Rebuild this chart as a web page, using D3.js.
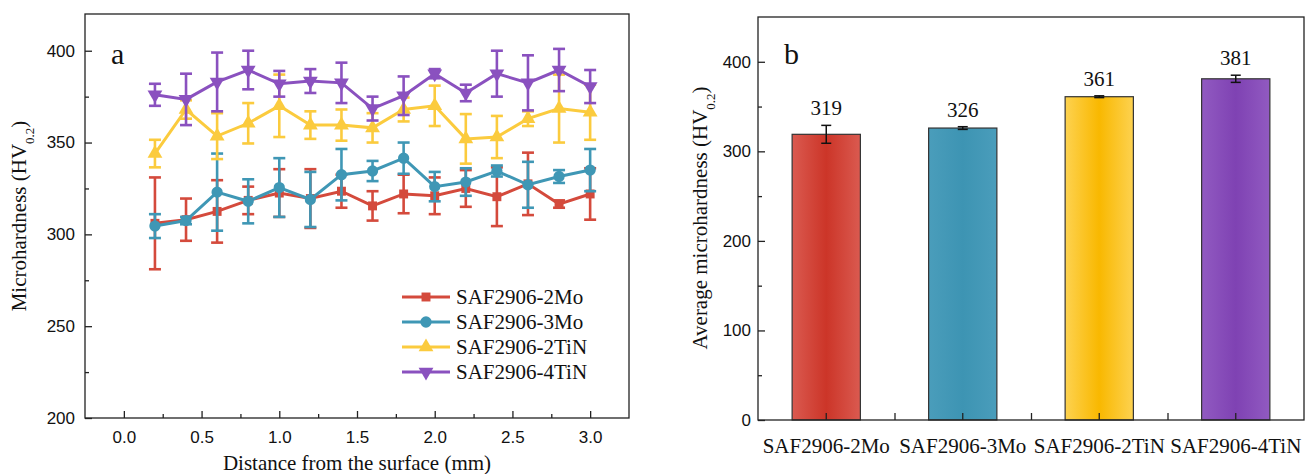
<!DOCTYPE html>
<html>
<head>
<meta charset="utf-8">
<script src="https://cdn.jsdelivr.net/npm/d3@7"></script>
<style>
  body { margin: 0; background: #fff; }
  svg text { fill: #111; }
  .serif { font-family: "Liberation Serif", "Times New Roman", serif; }
  .sans { font-family: "Liberation Sans", Arial, sans-serif; }
</style>
</head>
<body>
<svg id="chart" width="1310" height="474"></svg>
<script>
// panel a: hardness profile
const depth = [0.2, 0.4, 0.6, 0.8, 1.0, 1.2, 1.4, 1.6, 1.8, 2.0, 2.2, 2.4, 2.6, 2.8, 3.0];
const mo2    = [306, 308, 312.5, 318.5, 322.5, 319.5, 323.5, 315.5, 322, 321, 325, 320.5, 327.5, 316.5, 322];
const mo2Err = [25, 11.5, 17, 7.5, 13, 16, 9, 8, 10.5, 10, 10, 16, 17, 2, 14];
const mo3    = [304.5, 307.5, 323, 318, 325.5, 319, 332.5, 334.5, 341.5, 326, 328.5, 334.5, 327, 331.5, 335];
const mo3Err = [6.5, 2, 21, 12, 16, 15, 14, 5.5, 8.5, 8, 7.5, 3, 12.5, 3.5, 11.5];
const tin2    = [344, 368, 353.5, 360.5, 370, 359.5, 359.5, 358, 368, 370, 352, 353, 363, 368.5, 366.5];
const tin2Err = [7.5, 5, 12.5, 11, 17, 7.5, 8.5, 8, 6.5, 11, 13.5, 11.5, 4, 18.5, 15];
const tin4    = [376, 373.5, 383, 389.5, 382, 383.5, 382.5, 368.5, 375.5, 387.5, 377, 387.5, 382.5, 389.5, 380.5];
const tin4Err = [6, 14, 16, 10.5, 7, 6.5, 11, 6.5, 10.5, 2.5, 4.5, 12.5, 15, 11.5, 9];
const seriesNames = ["SAF2906-2Mo", "SAF2906-3Mo", "SAF2906-2TiN", "SAF2906-4TiN"];
const xTicksA = [0, 0.5, 1.0, 1.5, 2.0, 2.5, 3.0];
const xMinorA = [0.25, 0.75, 1.25, 1.75, 2.25, 2.75];
const yTicksA = [200, 250, 300, 350, 400];
const yMinorA = [225, 275, 325, 375];

// panel b: averages
const avgNames = ["SAF2906-2Mo", "SAF2906-3Mo", "SAF2906-2TiN", "SAF2906-4TiN"];
const avgVals  = [319, 326, 361, 381];
const avgErr   = [10, 1.5, 1, 4];
const yTicksB  = [0, 100, 200, 300, 400];
const yMinorB  = [50, 150, 250, 350];

const colors = ["#d44a3c", "#3f97b5", "#fbcb3e", "#8a51bf"];
const gradStops = [["#da5a50", "#cc3528"], ["#4a9dbb", "#3d94b3"], ["#fdd250", "#f9b800"], ["#915ac1", "#7f42b3"]];

const svg = d3.select("#chart");

// ---------- panel a ----------
const xa = d3.scaleLinear().domain([-0.25, 3.25]).range([85, 629]);
const ya = d3.scaleLinear().domain([200, 420]).range([418, 14]);

const gA = svg.append("g");
gA.append("rect").attr("x", 85).attr("y", 14).attr("width", 544).attr("height", 404)
  .attr("fill", "none").attr("stroke", "#222").attr("stroke-width", 1.3);

gA.append("g").attr("transform", "translate(0,418)")
  .call(d3.axisBottom(xa).tickValues(xTicksA).tickFormat(d3.format(".1f")).tickSizeInner(-7).tickSizeOuter(0).tickPadding(13))
  .call(g => g.select(".domain").remove())
  .call(g => g.selectAll("text").attr("class", "sans").style("font-size", "17px"));
gA.append("g").attr("transform", "translate(0,418)")
  .call(d3.axisBottom(xa).tickValues(xMinorA).tickFormat("").tickSizeInner(-4).tickSizeOuter(0))
  .call(g => g.select(".domain").remove());
gA.append("g").attr("transform", "translate(85,0)")
  .call(d3.axisLeft(ya).tickValues(yTicksA).tickSizeInner(-7).tickSizeOuter(0).tickPadding(10))
  .call(g => g.select(".domain").remove())
  .call(g => g.selectAll("text").attr("class", "sans").style("font-size", "17px"));
gA.append("g").attr("transform", "translate(85,0)")
  .call(d3.axisLeft(ya).tickValues(yMinorA).tickFormat("").tickSizeInner(-4).tickSizeOuter(0))
  .call(g => g.select(".domain").remove());
gA.selectAll(".tick line").attr("stroke", "#222").attr("stroke-width", 1.3);

const seriesVals = [mo2, mo3, tin2, tin4];
const seriesErr = [mo2Err, mo3Err, tin2Err, tin4Err];
const symbols = [
  {type: d3.symbolSquare, size: 80, rot: 0},
  {type: d3.symbolCircle, size: 100, rot: 0},
  {type: d3.symbolTriangle, size: 95, rot: 0},
  {type: d3.symbolTriangle, size: 95, rot: 180}
];

seriesVals.forEach((vals, s) => {
  const g = gA.append("g");
  const pts = depth.map((d, i) => ({x: d, y: vals[i], e: seriesErr[s][i]}));
  // error bars
  pts.forEach(p => {
    const cx = xa(p.x);
    g.append("line").attr("x1", cx).attr("x2", cx).attr("y1", ya(p.y - p.e)).attr("y2", ya(p.y + p.e))
      .attr("stroke", colors[s]).attr("stroke-width", 2.6);
    [p.y - p.e, p.y + p.e].forEach(v => {
      g.append("line").attr("x1", cx - 6).attr("x2", cx + 6).attr("y1", ya(v)).attr("y2", ya(v))
        .attr("stroke", colors[s]).attr("stroke-width", 2.6);
    });
  });
  g.append("path").datum(pts)
    .attr("d", d3.line().x(p => xa(p.x)).y(p => ya(p.y)))
    .attr("fill", "none").attr("stroke", colors[s]).attr("stroke-width", 3);
  g.selectAll("path.mk").data(pts).enter().append("path").attr("class", "mk")
    .attr("d", d3.symbol().type(symbols[s].type).size(symbols[s].size))
    .attr("transform", p => `translate(${xa(p.x)},${ya(p.y)}) rotate(${symbols[s].rot})`)
    .attr("fill", colors[s]);
});

// legend
seriesNames.forEach((name, s) => {
  const ly = 297 + s * 25;
  gA.append("line").attr("x1", 402).attr("x2", 450).attr("y1", ly).attr("y2", ly)
    .attr("stroke", colors[s]).attr("stroke-width", 3);
  gA.append("path").attr("d", d3.symbol().type(symbols[s].type).size(symbols[s].size))
    .attr("transform", `translate(426,${ly}) rotate(${symbols[s].rot})`).attr("fill", colors[s]);
  gA.append("text").attr("class", "serif").attr("x", 456).attr("y", ly).attr("dy", "0.35em")
    .style("font-size", "21px").text(name);
});

gA.append("text").attr("class", "serif").attr("x", 111).attr("y", 64).style("font-size", "30px").text("a");
gA.append("text").attr("class", "serif").attr("x", 357).attr("y", 470).attr("text-anchor", "middle")
  .style("font-size", "21px").text("Distance from the surface (mm)");
const tA = gA.append("text").attr("class", "serif").attr("transform", "translate(26,216) rotate(-90)")
  .attr("text-anchor", "middle").style("font-size", "21px");
tA.append("tspan").text("Microhardness (HV");
tA.append("tspan").attr("baseline-shift", "sub").style("font-size", "13px").text("0.2");
tA.append("tspan").text(")");

// ---------- panel b ----------
const xb = d3.scaleBand().domain(avgNames).range([758, 1304]).padding(0);
const yb = d3.scaleLinear().domain([0, 450]).range([420, 17]);

const defs = svg.append("defs");
gradStops.forEach((st, i) => {
  const gr = defs.append("linearGradient").attr("id", "grad" + i).attr("x1", "0").attr("x2", "1").attr("y1", "0").attr("y2", "0");
  gr.append("stop").attr("offset", "0%").attr("stop-color", st[0]);
  gr.append("stop").attr("offset", "50%").attr("stop-color", st[1]);
  gr.append("stop").attr("offset", "100%").attr("stop-color", st[0]);
});

const gB = svg.append("g");
const bw = xb.bandwidth() * 0.5;
gB.selectAll("rect.bar").data(avgVals).enter().append("rect").attr("class", "bar")
  .attr("x", (d, i) => xb(avgNames[i]) + xb.bandwidth() / 2 - bw / 2)
  .attr("y", d => yb(d)).attr("width", bw).attr("height", d => yb(0) - yb(d))
  .attr("fill", (d, i) => `url(#grad${i})`).attr("stroke", "#333").attr("stroke-width", 1.2);

avgVals.forEach((v, i) => {
  const cx = xb(avgNames[i]) + xb.bandwidth() / 2;
  gB.append("line").attr("x1", cx).attr("x2", cx).attr("y1", yb(v - avgErr[i])).attr("y2", yb(v + avgErr[i]))
    .attr("stroke", "#111").attr("stroke-width", 1.5);
  [v - avgErr[i], v + avgErr[i]].forEach(e => {
    gB.append("line").attr("x1", cx - 5).attr("x2", cx + 5).attr("y1", yb(e)).attr("y2", yb(e))
      .attr("stroke", "#111").attr("stroke-width", 1.5);
  });
  gB.append("text").attr("class", "serif").attr("x", cx).attr("y", yb(v + avgErr[i]) - 10)
    .attr("text-anchor", "middle").style("font-size", "21px").text(v);
});

gB.append("rect").attr("x", 758).attr("y", 17).attr("width", 546).attr("height", 403)
  .attr("fill", "none").attr("stroke", "#222").attr("stroke-width", 1.3);

gB.append("g").attr("transform", "translate(0,420)")
  .call(d3.axisBottom(xb).tickSizeInner(-7).tickSizeOuter(0).tickPadding(18))
  .call(g => g.select(".domain").remove())
  .call(g => g.selectAll("text").attr("class", "serif").style("font-size", "21px"));
// ticks on the band boundaries
gB.append("g").attr("transform", "translate(0,420)")
  .call(d3.axisBottom(d3.scaleLinear().domain([0, 4]).range([758, 1304])).tickValues([1, 2, 3]).tickFormat("").tickSizeInner(-7).tickSizeOuter(0))
  .call(g => g.select(".domain").remove());
gB.append("g").attr("transform", "translate(758,0)")
  .call(d3.axisLeft(yb).tickValues(yTicksB).tickSizeInner(-7).tickSizeOuter(0).tickPadding(7))
  .call(g => g.select(".domain").remove())
  .call(g => g.selectAll("text").attr("class", "sans").style("font-size", "17px"));
gB.append("g").attr("transform", "translate(758,0)")
  .call(d3.axisLeft(yb).tickValues(yMinorB).tickFormat("").tickSizeInner(-4).tickSizeOuter(0))
  .call(g => g.select(".domain").remove());
gB.selectAll(".tick line").attr("stroke", "#222").attr("stroke-width", 1.3);

gB.append("text").attr("class", "serif").attr("x", 784).attr("y", 64).style("font-size", "30px").text("b");
const tB = gB.append("text").attr("class", "serif").attr("transform", "translate(707,218) rotate(-90)")
  .attr("text-anchor", "middle").style("font-size", "21px");
tB.append("tspan").text("Average microhardness (HV");
tB.append("tspan").attr("baseline-shift", "sub").style("font-size", "13px").text("0.2");
tB.append("tspan").text(")");
</script>
</body>
</html>
